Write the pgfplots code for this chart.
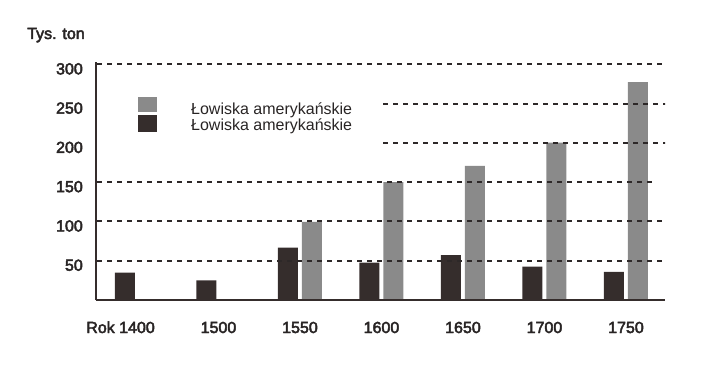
\documentclass[border=0pt]{standalone}
\usepackage{fontspec}
\setmainfont{Liberation Sans}
\newfontfamily\heavy[FakeBold=3]{Liberation Sans}
\usepackage{pgfplots}
\pgfplotsset{compat=1.18}
\definecolor{darkbar}{RGB}{53,45,44}
\definecolor{graybar}{RGB}{138,138,138}
\definecolor{gridc}{RGB}{45,40,40}
\definecolor{txt}{RGB}{40,36,36}
\begin{document}
\begin{tikzpicture}[x=1pt,y=1pt]
\useasboundingbox (0,0) rectangle (708,365);
\node[anchor=base west, font=\heavy\fontsize{16}{19}\selectfont, text=txt, inner sep=0pt] at (27,326) {Tys. ton};
\begin{axis}[
  at={(96pt,65pt)}, anchor=south west,
  scale only axis, width=569pt, height=238pt,
  xmin=-0.503, xmax=6.479, ymin=0, ymax=303,
  axis x line=bottom, axis y line=left,
  axis line style={-, line width=2.8pt, darkbar},
  axis on top,
  xtick={0,...,6},
  xticklabels={\llap{Rok }1400,1500,1550,1600,1650,1700,1750},
  ytick={50,100,...,300},
  major tick length=0pt,
  tick label style={font=\heavy\fontsize{16}{19}\selectfont, text=txt},
  /pgf/number format/assume math mode=true,
  xticklabel style={anchor=base, inner sep=0pt, yshift=-33pt},
  yticklabel style={anchor=east, inner sep=0pt, xshift=-13pt, yshift=-4.5pt},
  ybar, bar width=20pt,
  legend style={at={(axis description cs:0.0738,0.853)}, anchor=north west,
    draw=none, fill=none, inner sep=0pt, row sep=-3pt,
    font=\fontsize{16}{19}\selectfont, text=txt},
  legend cell align=left,
]
\addplot[fill=graybar, draw=none, bar shift=12pt,
  legend image code/.code={\fill[graybar] (0pt,-3pt) rectangle (19pt,12pt); \path[draw=none,fill=none] (0pt,0pt) rectangle (51pt,1pt);}]
  coordinates {(2,99.5) (3,150) (4,170.7) (5,200.4) (6,277.3)};
\addlegendentry{Łowiska amerykańskie}
\addplot[fill=darkbar, draw=none, bar shift=-12pt,
  legend image code/.code={\fill[darkbar] (0pt,-6pt) rectangle (19pt,11pt); \path[draw=none,fill=none] (0pt,0pt) rectangle (51pt,1pt);}]
  coordinates {(0,34.8) (1,25.1) (2,66.6) (3,47.5) (4,57) (5,42.4) (6,35.7)};
\addlegendentry{Łowiska amerykańskie}
\draw[gridc, line width=2pt, dash pattern=on 5pt off 5pt] (axis cs:-0.49,300) -- (axis cs:6.45,300);
\draw[gridc, line width=2pt, dash pattern=on 5pt off 5pt] (axis cs:3.02,250) -- (axis cs:6.50,250);
\draw[gridc, line width=2pt, dash pattern=on 5pt off 5pt] (axis cs:3.02,200) -- (axis cs:6.51,200);
\draw[gridc, line width=2pt, dash pattern=on 5pt off 5pt] (axis cs:-0.49,150) -- (axis cs:6.38,150);
\draw[gridc, line width=2pt, dash pattern=on 5pt off 5pt] (axis cs:-0.49,100) -- (axis cs:6.44,100);
\draw[gridc, line width=2pt, dash pattern=on 5pt off 5pt] (axis cs:-0.49,50) -- (axis cs:6.44,50);
\end{axis}
\end{tikzpicture}
\end{document}
